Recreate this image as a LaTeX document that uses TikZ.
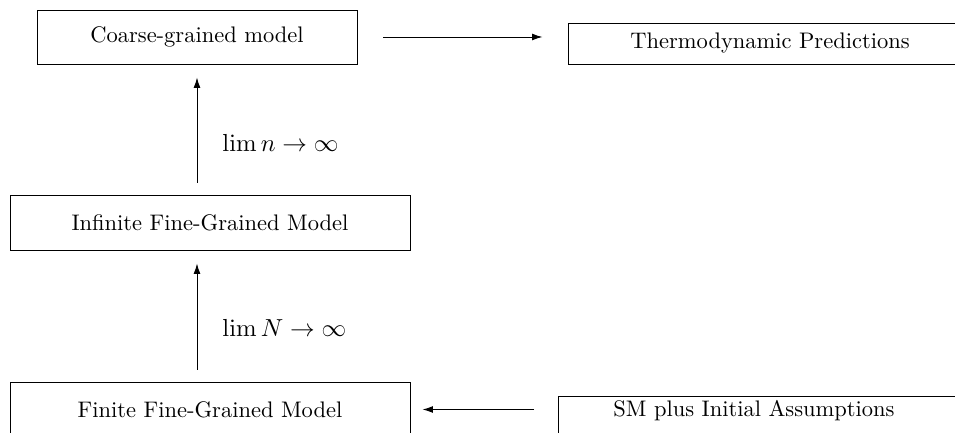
\documentclass[tikz,border=0pt]{standalone}
\usetikzlibrary{arrows.meta}
\newcommand\pu{0.4445pt}
\tikzset{
  box/.style={draw, line width=0.42pt, inner sep=0pt, align=center},
  arr/.style={line width=0.42pt, -{Latex[length=4.6pt,width=3pt]}},
  lab/.style={anchor=west, inner sep=0pt, font=\fontsize{11}{13}\selectfont}
}
\begin{document}
\begin{tikzpicture}[x=0.4445pt, y=-0.4445pt]
\useasboundingbox (0,0) rectangle (955,433);
\clip (0,0) rectangle (955,433);
\node[box, minimum width=320*\pu, minimum height=54*\pu] (coarse) at (197,37) {Coarse-grained model};
\node[box, minimum width=404*\pu, minimum height=41*\pu] (thermo) at (770,43.5) {Thermodynamic Predictions};
\node[box, minimum width=400*\pu, minimum height=55*\pu] (infinite) at (210,222.5) {Infinite Fine-Grained Model};
\node[box, minimum width=400*\pu, minimum height=55*\pu] (finite) at (210,409.5) {Finite Fine-Grained Model};
\node[draw, line width=0.42pt, anchor=north west, inner xsep=55*\pu, inner ysep=0pt,
      text width=400*\pu, align=left, text height=20*\pu, text depth=20pt] (sm) at (558,396.5) {SM plus Initial Assumptions};
\draw[arr, shorten <=26*\pu, shorten >=25*\pu] (coarse.east) -- (coarse.east -| thermo.west);
\draw[arr, shorten <=12*\pu, shorten >=13*\pu] (infinite.north -| coarse.south) -- (coarse.south);
\draw[arr, shorten <=12*\pu, shorten >=13*\pu] (finite.north -| coarse.south) -- (infinite.south -| coarse.south);
\draw[arr, shorten <=24*\pu, shorten >=12*\pu] (finite.east -| sm.west) -- (finite.east);
\node[lab] (limn) at (222,143) {$\lim n \to \infty$};
\node[lab] (limN) at (222,328) {$\lim N \to \infty$};
\end{tikzpicture}
\end{document}
